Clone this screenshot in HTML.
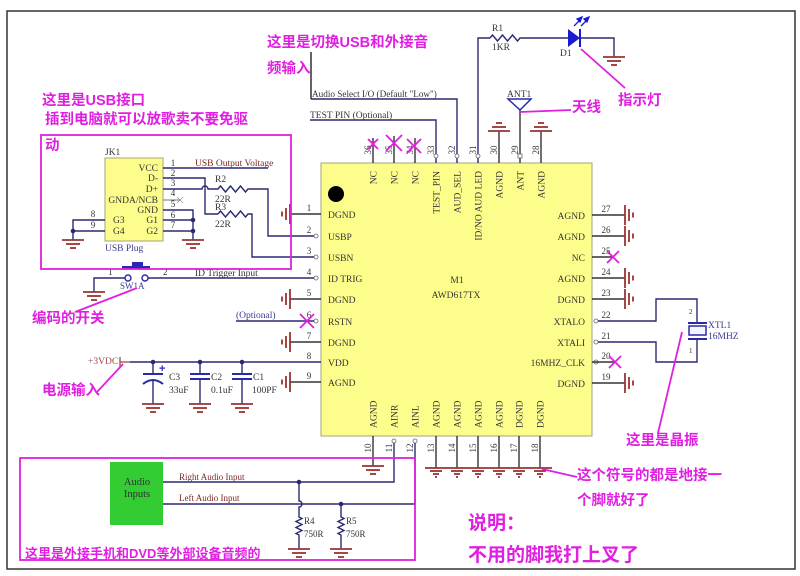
<!DOCTYPE html>
<html><head><meta charset="utf-8">
<style>
html,body{margin:0;padding:0;background:#fff;}
svg{display:block;}
.s{font-family:"Liberation Serif",serif;font-size:9.5px;fill:#333;}
.n{font-family:"Liberation Serif",serif;font-size:9px;fill:#333;}
.r{font-family:"Liberation Serif",serif;font-size:9.5px;fill:#7a2828;}
.b{font-family:"Liberation Serif",serif;font-size:9.5px;fill:#3a3a90;}
.c{font-family:"Liberation Sans","Noto Sans CJK SC",sans-serif;font-size:14.5px;fill:#e020e0;font-weight:bold;}
.w{stroke:#2a2a72;stroke-width:1.4;fill:none;}
.k{stroke:#333;stroke-width:1.4;fill:none;}
.m{stroke:#e020e0;stroke-width:1.8;fill:none;}
.cap{stroke:#2a2aa8;stroke-width:2;fill:none;}
</style></head><body>
<svg width="800" height="576" viewBox="0 0 800 576" xmlns="http://www.w3.org/2000/svg">
<defs>
<g id="gd" stroke="#993333" stroke-width="1.8" fill="none"><line x1="-11" y1="0" x2="11" y2="0"/><line x1="-7" y1="4" x2="7" y2="4"/><line x1="-3" y1="8" x2="3" y2="8"/></g>
<g id="gl" stroke="#993333" stroke-width="1.8" fill="none"><line x1="0" y1="-10" x2="0" y2="10"/><line x1="-4" y1="-6" x2="-4" y2="6"/><line x1="-8" y1="-2.5" x2="-8" y2="2.5"/></g>
<g id="gr" stroke="#993333" stroke-width="1.8" fill="none"><line x1="0" y1="-10" x2="0" y2="10"/><line x1="4" y1="-6" x2="4" y2="6"/><line x1="8" y1="-2.5" x2="8" y2="2.5"/></g>
<g id="gu" stroke="#993333" stroke-width="1.8" fill="none"><line x1="-11" y1="0" x2="11" y2="0"/><line x1="-7" y1="-4" x2="7" y2="-4"/><line x1="-3" y1="-8" x2="3" y2="-8"/></g>
<g id="gm" stroke="#993333" stroke-width="1.8" fill="none"><line x1="-6" y1="3" x2="6" y2="3"/><line x1="-3" y1="6" x2="3" y2="6"/><line x1="-1" y1="9" x2="1" y2="9"/></g>
</defs>

<!-- frame -->
<rect x="7" y="11" width="788" height="558" fill="none" stroke="#333" stroke-width="1.5"/>

<!-- chip -->
<rect x="321" y="163" width="271" height="273" fill="#fdfd8c" stroke="#a5a57a" stroke-width="1"/>
<circle cx="336" cy="194" r="8" fill="#000"/>
<text class="s" x="457" y="283" text-anchor="middle">M1</text>
<text class="s" x="456" y="298" text-anchor="middle">AWD617TX</text>

<!-- left chip labels -->
<g class="s">
<text x="328" y="218">DGND</text>
<text x="328" y="240">USBP</text>
<text x="328" y="261">USBN</text>
<text x="328" y="282">ID TRIG</text>
<text x="328" y="303">DGND</text>
<text x="328" y="325">RSTN</text>
<text x="328" y="346">DGND</text>
<text x="328" y="366">VDD</text>
<text x="328" y="386">AGND</text>
</g>
<!-- right chip labels -->
<g class="s" text-anchor="end">
<text x="585" y="219">AGND</text>
<text x="585" y="240">AGND</text>
<text x="585" y="261">NC</text>
<text x="585" y="282">AGND</text>
<text x="585" y="303">DGND</text>
<text x="585" y="325">XTALO</text>
<text x="585" y="346">XTALI</text>
<text x="585" y="366">16MHZ_CLK</text>
<text x="585" y="387">DGND</text>
</g>
<!-- top chip labels -->
<g class="s" text-anchor="end">
<text transform="translate(376.5,171) rotate(-90)">NC</text>
<text transform="translate(397.5,171) rotate(-90)">NC</text>
<text transform="translate(418.5,171) rotate(-90)">NC</text>
<text transform="translate(439.5,171) rotate(-90)">TEST_PIN</text>
<text transform="translate(460.5,171) rotate(-90)">AUD_SEL</text>
<text transform="translate(481.5,171) rotate(-90)">ID/NO AUD LED</text>
<text transform="translate(502.5,171) rotate(-90)">AGND</text>
<text transform="translate(523.5,171) rotate(-90)">ANT</text>
<text transform="translate(544.5,171) rotate(-90)">AGND</text>
</g>
<!-- bottom chip labels -->
<g class="s">
<text transform="translate(376.5,428) rotate(-90)">AGND</text>
<text transform="translate(397.5,428) rotate(-90)">AINR</text>
<text transform="translate(418.5,428) rotate(-90)">AINL</text>
<text transform="translate(439.5,428) rotate(-90)">AGND</text>
<text transform="translate(460.5,428) rotate(-90)">AGND</text>
<text transform="translate(481.5,428) rotate(-90)">AGND</text>
<text transform="translate(502.5,428) rotate(-90)">AGND</text>
<text transform="translate(522.5,428) rotate(-90)">DGND</text>
<text transform="translate(543.5,428) rotate(-90)">DGND</text>
</g>

<!-- pin numbers -->
<g class="n" text-anchor="middle">
<text x="309" y="211">1</text><text x="309" y="233">2</text><text x="309" y="254">3</text><text x="309" y="275">4</text><text x="309" y="296">5</text><text x="309" y="318">6</text><text x="309" y="339">7</text><text x="309" y="359">8</text><text x="309" y="379">9</text>
<text x="606" y="212">27</text><text x="606" y="233">26</text><text x="606" y="254">25</text><text x="606" y="275">24</text><text x="606" y="296">23</text><text x="606" y="318">22</text><text x="606" y="339">21</text><text x="606" y="359">20</text><text x="606" y="380">19</text>
<text transform="translate(371,150) rotate(-90)">36</text>
<text transform="translate(392,150) rotate(-90)">35</text>
<text transform="translate(413,150) rotate(-90)">34</text>
<text transform="translate(434,150) rotate(-90)">33</text>
<text transform="translate(455,150) rotate(-90)">32</text>
<text transform="translate(476,150) rotate(-90)">31</text>
<text transform="translate(497,150) rotate(-90)">30</text>
<text transform="translate(518,150) rotate(-90)">29</text>
<text transform="translate(539,150) rotate(-90)">28</text>
<text transform="translate(371,448) rotate(-90)">10</text>
<text transform="translate(392,448) rotate(-90)">11</text>
<text transform="translate(413,448) rotate(-90)">12</text>
<text transform="translate(434,448) rotate(-90)">13</text>
<text transform="translate(455,448) rotate(-90)">14</text>
<text transform="translate(476,448) rotate(-90)">15</text>
<text transform="translate(497,448) rotate(-90)">16</text>
<text transform="translate(517,448) rotate(-90)">17</text>
<text transform="translate(538,448) rotate(-90)">18</text>
</g>

<!-- TOP wiring -->
<line class="k" x1="373" y1="163" x2="373" y2="138"/>
<line class="k" x1="394" y1="163" x2="394" y2="136"/>
<line class="k" x1="415" y1="163" x2="415" y2="138"/>
<polyline class="w" points="436,163 436,120 310,120"/>
<polyline class="w" points="457,163 457,99 311,99"/>
<line stroke="#222" stroke-width="1.4" x1="311" y1="52" x2="311" y2="99"/>
<polyline class="w" points="478,163 478,38 490,38"/>
<path class="w" d="M490,38 l2.5,-3 l5,6 l5,-6 l5,6 l5,-6 l5,6 l2.5,-3 L568,38"/>
<polygon points="568,29 568,47 580,38" fill="#1a1ad0"/>
<line x1="580" y1="29" x2="580" y2="47" stroke="#1a1ad0" stroke-width="2"/>
<polyline class="w" points="580,38 614,38 614,57"/>
<use href="#gd" x="614" y="57"/>
<g stroke="#1a1ad0" stroke-width="1.3" fill="#1a1ad0">
<line x1="574" y1="26" x2="580" y2="20"/><polygon points="582,17 577,19 580,22"/>
<line x1="581" y1="26" x2="587" y2="20"/><polygon points="589,17 584,19 587,22"/>
</g>
<line class="k" x1="499" y1="163" x2="499" y2="131"/><use href="#gu" x="499" y="131"/>
<line class="k" x1="541" y1="163" x2="541" y2="131"/><use href="#gu" x="541" y="131"/>
<line class="k" x1="520" y1="163" x2="520" y2="110"/>
<polygon points="508,99 531,99 520,110" fill="none" stroke="#2a2aa8" stroke-width="1.5"/>
<rect x="518" y="154" width="4" height="4" fill="#fff" stroke="#666" stroke-width="0.8"/>
<g fill="#fff" stroke="#666" stroke-width="0.8">
<circle cx="436" cy="156" r="2"/><circle cx="457" cy="156" r="2"/><circle cx="478" cy="156" r="2"/>
<circle cx="316" cy="236" r="2"/><circle cx="316" cy="257" r="2"/><circle cx="316" cy="278" r="2"/><circle cx="316" cy="321" r="2"/>
<circle cx="596" cy="321" r="2"/><circle cx="596" cy="342" r="2"/><circle cx="596" cy="362" r="2"/>
<circle cx="394" cy="441" r="2"/><circle cx="415" cy="441" r="2"/>
</g>
<text class="s" x="312" y="97" style="font-size:9.2px">Audio Select I/O (Default "Low")</text>
<text class="s" x="310" y="118">TEST  PIN (Optional)</text>
<text class="s" x="492" y="31">R1</text>
<text class="s" x="492" y="50">1KR</text>
<text class="s" x="560" y="56">D1</text>
<text class="s" x="507" y="97">ANT1</text>

<!-- LEFT chip wiring -->
<line class="k" x1="290" y1="214" x2="321" y2="214"/><use href="#gl" x="290" y="214"/>
<line class="k" x1="290" y1="299" x2="321" y2="299"/><use href="#gl" x="290" y="299"/>
<line class="k" x1="290" y1="342" x2="321" y2="342"/><use href="#gl" x="290" y="342"/>
<line class="k" x1="290" y1="382" x2="321" y2="382"/><use href="#gl" x="290" y="382"/>
<line class="w" x1="236" y1="321" x2="314" y2="321"/>
<text class="b" x="236" y="318">(Optional)</text>

<!-- RIGHT chip wiring -->
<line class="k" x1="592" y1="215" x2="625" y2="215"/><use href="#gr" x="625" y="215"/>
<line class="k" x1="592" y1="236" x2="625" y2="236"/><use href="#gr" x="625" y="236"/>
<line class="k" x1="592" y1="257" x2="613" y2="257"/>
<line class="k" x1="592" y1="278" x2="625" y2="278"/><use href="#gr" x="625" y="278"/>
<line class="k" x1="592" y1="299" x2="625" y2="299"/><use href="#gr" x="625" y="299"/>
<line class="k" x1="592" y1="362" x2="615" y2="362"/>
<line class="k" x1="592" y1="383" x2="625" y2="383"/><use href="#gr" x="625" y="383"/>
<polyline class="w" points="598,321 656,321 656,299 697,299 697,323"/>
<polyline class="w" points="598,342 656,342 656,362 697,362 697,339"/>
<line class="cap" x1="688" y1="323" x2="707" y2="323"/>
<rect x="689" y="326" width="17" height="9" fill="#f4f4ff" stroke="#2a2aa8" stroke-width="1.5"/>
<line class="cap" x1="688" y1="339" x2="707" y2="339"/>
<text class="b" x="708" y="328">XTL1</text>
<text class="b" x="708" y="339">16MHZ</text>
<text class="n" x="689" y="314" style="font-size:7px">2</text>
<text class="n" x="689" y="353" style="font-size:7px">1</text>

<!-- BOTTOM chip wiring -->
<line class="k" x1="373" y1="436" x2="373" y2="466"/><use href="#gd" x="373" y="466"/>
<polyline class="w" points="394,443 394,482 163,482"/>
<polyline class="w" points="415,443 415,504 163,504"/>
<g class="k">
<line x1="436" y1="436" x2="436" y2="468"/><line x1="457" y1="436" x2="457" y2="468"/><line x1="478" y1="436" x2="478" y2="468"/>
<line x1="499" y1="436" x2="499" y2="468"/><line x1="519" y1="436" x2="519" y2="468"/><line x1="540" y1="436" x2="540" y2="468"/>
</g>
<line x1="425" y1="468" x2="552" y2="468" stroke="#993333" stroke-width="1.8"/>
<use href="#gm" x="436" y="468"/><use href="#gm" x="457" y="468"/><use href="#gm" x="478" y="468"/>
<use href="#gm" x="499" y="468"/><use href="#gm" x="519" y="468"/><use href="#gm" x="540" y="468"/>

<!-- audio section -->
<rect x="110" y="462" width="53" height="63" fill="#33cc33"/>
<text class="s" x="137" y="485" text-anchor="middle" style="font-size:10.5px">Audio</text>
<text class="s" x="137" y="497" text-anchor="middle" style="font-size:10.5px">Inputs</text>
<text class="r" x="179" y="480" style="font-size:9px">Right Audio Input</text>
<text class="r" x="179" y="501" style="font-size:9px">Left Audio Input</text>
<circle cx="299" cy="482" r="2.3" fill="#2a2a72"/>
<path class="w" d="M299,482 V501 A3 3 0 0 1 299,507 V517 l3,1.5 l-6,3 l6,3 l-6,3 l6,3 l-6,3 l3,1.5 V549"/>
<use href="#gd" x="299" y="549"/>
<circle cx="341" cy="504" r="2.3" fill="#2a2a72"/>
<path class="w" d="M341,504 V517 l3,1.5 l-6,3 l6,3 l-6,3 l6,3 l-6,3 l3,1.5 V549"/>
<use href="#gd" x="341" y="549"/>
<text class="s" x="304" y="524" style="font-size:9px">R4</text>
<text class="s" x="304" y="537" style="font-size:9px">750R</text>
<text class="s" x="346" y="524" style="font-size:9px">R5</text>
<text class="s" x="346" y="537" style="font-size:9px">750R</text>

<!-- USB section -->
<rect x="105" y="158" width="58" height="83" fill="#fdfd8c" stroke="#a5a57a"/>
<text class="s" x="105" y="155">JK1</text>
<text class="b" x="105" y="251">USB Plug</text>
<g class="s" text-anchor="end">
<text x="158" y="171">VCC</text><text x="158" y="181">D-</text><text x="158" y="192">D+</text>
<text x="158" y="203">GNDA/NCB</text><text x="158" y="213">GND</text><text x="158" y="223">G1</text><text x="158" y="234">G2</text>
</g>
<text class="s" x="113" y="223">G3</text><text class="s" x="113" y="234">G4</text>
<g class="n" text-anchor="middle">
<text x="173" y="166">1</text><text x="173" y="176">2</text><text x="173" y="186">3</text><text x="173" y="196">4</text>
<text x="173" y="207">5</text><text x="173" y="218">6</text><text x="173" y="228">7</text>
<text x="93" y="217">8</text><text x="93" y="228">9</text>
</g>
<line class="w" x1="163" y1="168" x2="268" y2="168"/>
<text class="r" x="195" y="166">USB Output Voltage</text>
<polyline class="w" points="163,178 205,178 205,214 218,214"/>
<path class="w" d="M218,214 l2.5,-3 l5,6 l5,-6 l5,6 l5,-6 l5,6 l2.5,-3 H252 V257 H314"/>
<path class="w" d="M163,189 H202 A3 3 0 0 1 208,189 H218 l2.5,-3 l5,6 l5,-6 l5,6 l5,-6 l5,6 l2.5,-3 H268 V236 H314"/>
<line stroke="#777" stroke-width="1" x1="163" y1="200" x2="180" y2="200"/>
<path d="M177,197 l6,6 M183,197 l-6,6" stroke="#999" stroke-width="0.8"/>
<polyline class="w" points="163,210 193,210 193,240"/>
<line class="w" x1="163" y1="220" x2="193" y2="220"/>
<line class="w" x1="163" y1="231" x2="193" y2="231"/>
<circle cx="193" cy="220" r="2.3" fill="#2a2a72"/><circle cx="193" cy="231" r="2.3" fill="#2a2a72"/>
<use href="#gd" x="193" y="240"/>
<polyline class="w" points="105,220 73,220 73,240"/>
<line class="w" x1="105" y1="231" x2="73" y2="231"/>
<circle cx="73" cy="231" r="2.3" fill="#2a2a72"/>
<use href="#gd" x="73" y="240"/>
<text class="s" x="215" y="182">R2</text><text class="s" x="215" y="202">22R</text>
<text class="s" x="215" y="210">R3</text><text class="s" x="215" y="227">22R</text>

<!-- switch -->
<line class="w" x1="148" y1="278" x2="314" y2="278"/>
<polyline class="w" points="125,278 94,278 94,292"/>
<use href="#gd" x="94" y="292"/>
<circle cx="128" cy="278" r="3" fill="#fff" stroke="#2a2aa8" stroke-width="1.4"/>
<circle cx="145" cy="278" r="3" fill="#fff" stroke="#2a2aa8" stroke-width="1.4"/>
<rect x="122" y="266" width="28" height="3" fill="#2a2ab0"/>
<rect x="132" y="262" width="11" height="5" fill="#2a2ab0"/>
<text class="n" x="108" y="275">1</text><text class="n" x="163" y="275">2</text>
<text class="b" x="120" y="289" style="font-size:9px">SW1A</text>
<text class="s" x="195" y="276">ID Trigger Input</text>

<!-- power -->
<text class="r" x="88" y="364" style="fill:#a04848">+3VDC</text>
<line x1="120" y1="357" x2="120" y2="367" stroke="#a04848" stroke-width="1.3"/>
<line x1="120" y1="362" x2="130" y2="362" stroke="#a04848" stroke-width="1.3"/>
<line class="w" x1="130" y1="362" x2="321" y2="362"/>
<circle cx="153" cy="362" r="2.3" fill="#2a2a72"/><circle cx="200" cy="362" r="2.3" fill="#2a2a72"/><circle cx="242" cy="362" r="2.3" fill="#2a2a72"/>
<line class="w" x1="153" y1="362" x2="153" y2="374"/>
<line class="cap" x1="143" y1="374" x2="163" y2="374"/>
<path class="cap" d="M143,384 Q153,376 163,384"/>
<line class="w" x1="153" y1="380" x2="153" y2="404"/>
<text x="159" y="372" fill="#2a2ab0" style="font-family:'Liberation Sans',sans-serif;font-size:11px;font-weight:bold">+</text>
<line class="w" x1="200" y1="362" x2="200" y2="374"/>
<line class="cap" x1="190" y1="374" x2="210" y2="374"/><line class="cap" x1="190" y1="379" x2="210" y2="379"/>
<line class="w" x1="200" y1="379" x2="200" y2="404"/>
<line class="w" x1="242" y1="362" x2="242" y2="374"/>
<line class="cap" x1="232" y1="374" x2="252" y2="374"/><line class="cap" x1="232" y1="379" x2="252" y2="379"/>
<line class="w" x1="242" y1="379" x2="242" y2="404"/>
<use href="#gd" x="153" y="404"/><use href="#gd" x="200" y="404"/><use href="#gd" x="242" y="404"/>
<text class="s" x="169" y="380">C3</text><text class="s" x="169" y="393">33uF</text>
<text class="s" x="211" y="380">C2</text><text class="s" x="211" y="393">0.1uF</text>
<text class="s" x="253" y="380">C1</text><text class="s" x="252" y="393">100PF</text>

<!-- magenta X marks -->
<g class="m">
<path d="M368,139 l10,10 M378,139 l-10,10"/>
<path d="M386,135 l16,16 M402,135 l-16,16"/>
<path d="M407,139 l14,14 M421,139 l-14,14"/>
<path d="M300,314 l14,14 M314,314 l-14,14"/>
<path d="M607,251 l12,12 M619,251 l-12,12"/>
<path d="M609,356 l12,12 M621,356 l-12,12"/>
</g>

<!-- magenta boxes & pointers -->
<rect x="41" y="135" width="250" height="134" class="m"/>
<rect x="20" y="458" width="395" height="102" class="m"/>
<line class="m" x1="581" y1="49" x2="625" y2="88"/>
<line class="m" x1="520" y1="112" x2="571" y2="110"/>
<line class="m" x1="682" y1="332" x2="658" y2="433"/>
<line class="m" x1="542" y1="469" x2="577" y2="477"/>
<line class="m" x1="137" y1="288" x2="75" y2="312"/>
<line class="m" x1="123" y1="364" x2="97" y2="392"/>

<!-- Chinese annotations -->
<text class="c" x="267" y="47">这里是切换USB和外接音</text>
<text class="c" x="267" y="73">频输入</text>
<text class="c" x="42" y="105">这里是USB接口</text>
<text class="c" x="45" y="124">插到电脑就可以放歌卖不要免驱</text>
<text class="c" x="45" y="150">动</text>
<text class="c" x="618" y="105">指示灯</text>
<text class="c" x="572" y="112">天线</text>
<text class="c" x="32" y="323">编码的开关</text>
<text class="c" x="42" y="395">电源输入</text>
<text class="c" x="626" y="445">这里是晶振</text>
<text class="c" x="577" y="480">这个符号的都是地接一</text>
<text class="c" x="577" y="505">个脚就好了</text>
<text class="c" x="468" y="529" style="font-size:19px">说明：</text>
<text class="c" x="468" y="561" style="font-size:19px">不用的脚我打上叉了</text>
<text class="c" x="25" y="558" style="font-size:13px">这里是外接手机和DVD等外部设备音频的</text>
</svg>
</body></html>
